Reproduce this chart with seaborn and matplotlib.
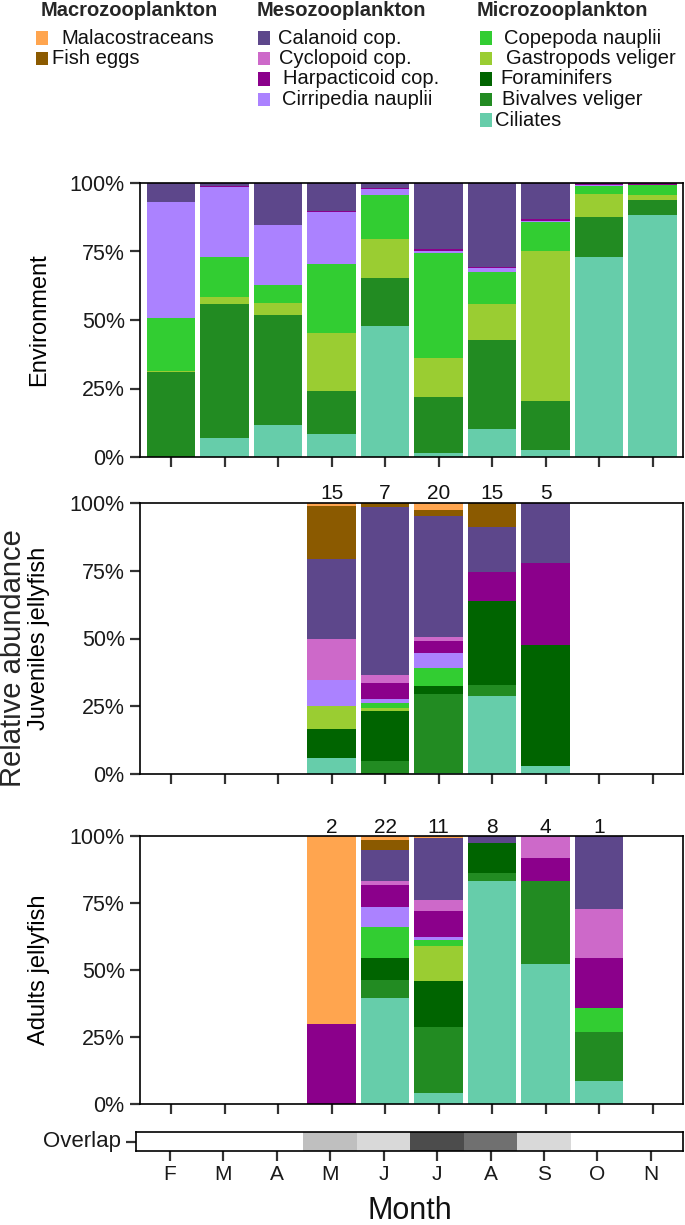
import numpy as np
import pandas as pd
import matplotlib
matplotlib.use("Agg")
import matplotlib.pyplot as plt
from matplotlib.patches import Rectangle
from matplotlib.colors import LinearSegmentedColormap
import seaborn as sns

# ---------------- data ----------------
months = ["Feb", "Mar", "Apr", "May", "Jun", "Jul", "Aug", "Sep", "Oct", "Nov"]
month_labels = ["F", "M", "A", "M", "J", "J", "A", "S", "O", "N"]

# stacking order, bottom -> top
taxa = ["Ciliates", "Bivalves veliger", "Foraminifers", "Gastropods veliger",
        "Copepoda nauplii", "Cirripedia nauplii", "Harpacticoid cop.",
        "Cyclopoid cop.", "Calanoid cop.", "Fish eggs", "Malacostraceans"]

colors = {
    "Malacostraceans": "#FFA54F", "Fish eggs": "#8B5A00",
    "Calanoid cop.": "#5D478B", "Cyclopoid cop.": "#CD69C9",
    "Harpacticoid cop.": "#8B008B", "Cirripedia nauplii": "#AB82FF",
    "Copepoda nauplii": "#32CD32", "Gastropods veliger": "#9ACD32",
    "Foraminifers": "#006400", "Bivalves veliger": "#228B22",
    "Ciliates": "#66CDAA",
}

# Environment (% per month F..N)
environment = {
    "Ciliates":           [0, 6.8, 11.7, 8.5, 47.7, 1.3, 10.2, 2.7, 73.0, 88.5],
    "Bivalves veliger":   [31.0, 49.1, 40.2, 15.5, 17.8, 20.7, 32.4, 17.9, 14.5, 5.4],
    "Foraminifers":       [0, 0, 0, 0, 0, 0, 0, 0, 0, 0],
    "Gastropods veliger": [0.3, 2.6, 4.4, 21.3, 14.0, 14.1, 13.2, 54.7, 8.5, 1.7],
    "Copepoda nauplii":   [19.5, 14.6, 6.6, 25.2, 16.1, 38.4, 11.8, 10.5, 2.8, 3.7],
    "Cirripedia nauplii": [42.1, 25.6, 21.6, 18.9, 2.1, 0.7, 1.2, 0.3, 0.3, 0],
    "Harpacticoid cop.":  [0.3, 0.3, 0.3, 0.3, 0.3, 0.6, 0.7, 0.8, 0.6, 0.7],
    "Cyclopoid cop.":     [0, 0, 0, 0, 0, 0, 0, 0, 0, 0],
    "Calanoid cop.":      [6.8, 1.0, 15.2, 10.3, 2.0, 24.2, 30.5, 13.1, 0.3, 0],
    "Fish eggs":          [0, 0, 0, 0, 0, 0, 0, 0, 0, 0],
    "Malacostraceans":    [0, 0, 0, 0, 0, 0, 0, 0, 0, 0],
}

juveniles = {
    "Ciliates":           [0, 0, 0, 5.8, 0, 0.5, 28.8, 3.1, 0, 0],
    "Bivalves veliger":   [0, 0, 0, 0, 4.9, 29.1, 4.2, 0, 0, 0],
    "Foraminifers":       [0, 0, 0, 10.9, 18.3, 2.8, 30.7, 44.5, 0, 0],
    "Gastropods veliger": [0, 0, 0, 8.3, 1.2, 0, 0, 0, 0, 0],
    "Copepoda nauplii":   [0, 0, 0, 0, 1.7, 6.7, 0, 0, 0, 0],
    "Cirripedia nauplii": [0, 0, 0, 9.6, 1.7, 5.7, 0, 0, 0, 0],
    "Harpacticoid cop.":  [0, 0, 0, 0, 5.6, 4.3, 10.9, 30.2, 0, 0],
    "Cyclopoid cop.":     [0, 0, 0, 15.2, 3.0, 1.5, 0, 0, 0, 0],
    "Calanoid cop.":      [0, 0, 0, 29.6, 62.1, 44.7, 16.4, 22.2, 0, 0],
    "Fish eggs":          [0, 0, 0, 19.6, 1.5, 2.2, 9.0, 0, 0, 0],
    "Malacostraceans":    [0, 0, 0, 1.0, 0, 2.5, 0, 0, 0, 0],
}

adults = {
    "Ciliates":           [0, 0, 0, 0, 39.7, 4.0, 83.3, 52.3, 8.4, 0],
    "Bivalves veliger":   [0, 0, 0, 0, 6.7, 24.7, 3.0, 30.9, 18.5, 0],
    "Foraminifers":       [0, 0, 0, 0, 8.0, 17.1, 11.0, 0, 0, 0],
    "Gastropods veliger": [0, 0, 0, 0, 0, 13.1, 0, 0, 0, 0],
    "Copepoda nauplii":   [0, 0, 0, 0, 11.6, 2.2, 0, 0, 9.1, 0],
    "Cirripedia nauplii": [0, 0, 0, 0, 7.6, 1.2, 0, 0, 0, 0],
    "Harpacticoid cop.":  [0, 0, 0, 29.7, 8.0, 9.6, 0, 8.7, 18.5, 0],
    "Cyclopoid cop.":     [0, 0, 0, 0, 1.6, 4.1, 0, 8.1, 18.3, 0],
    "Calanoid cop.":      [0, 0, 0, 0, 11.6, 23.1, 2.7, 0, 27.2, 0],
    "Fish eggs":          [0, 0, 0, 0, 3.7, 0, 0, 0, 0, 0],
    "Malacostraceans":    [0, 0, 0, 70.3, 1.5, 0.9, 0, 0, 0, 0],
}

juvenile_n = [None, None, None, 15, 7, 20, 15, 5, None, None]
adult_n = [None, None, None, 2, 22, 11, 8, 4, 1, None]

overlap = [0, 0, 0, 0.25, 0.15, 0.70, 0.56, 0.15, 0, 0]

legend_titles = ["Macrozooplankton", "Mesozooplankton", "Microzooplankton"]
legend_members = [
    ["Malacostraceans", "Fish eggs"],
    ["Calanoid cop.", "Cyclopoid cop.", "Harpacticoid cop.", "Cirripedia nauplii"],
    ["Copepoda nauplii", "Gastropods veliger", "Foraminifers", "Bivalves veliger", "Ciliates"],
]

# ---------------- style ----------------
sns.set_theme(style="ticks")
plt.rcParams["font.family"] = ["Liberation Sans", "DejaVu Sans"]
plt.rcParams["axes.edgecolor"] = "black"

W, H = 685, 1225
fig = plt.figure(figsize=(W / 100, H / 100), dpi=100)
TICK_FS = 15.5


def fig_axes(x0, y0, x1, y1):
    return fig.add_axes([x0 / W, 1 - y1 / H, (x1 - x0) / W, (y1 - y0) / H])


def style_frame(ax):
    ax.tick_params(axis="both", direction="out", length=7, width=1.6,
                   color="#333333", pad=4, labelcolor="#1a1a1a")
    for s in ax.spines.values():
        s.set_visible(True)
        s.set_color("black")
        s.set_linewidth(1.2)


def stacked_panel(ax, table, ylabel, counts=None):
    df = pd.DataFrame(table, index=months)[taxa]
    cum = df.cumsum(axis=1)
    for t in reversed(taxa):
        sns.barplot(x=months, y=cum[t].values, order=months, color=colors[t],
                    saturation=1, width=0.9, linewidth=0, errorbar=None, ax=ax)
    ax.set_xlim(-0.58, 9.57)
    ax.set_ylim(0, 100)
    ax.set_yticks([0, 25, 50, 75, 100])
    ax.set_yticklabels(["0%", "25%", "50%", "75%", "100%"], fontsize=TICK_FS)
    ax.set_xticks(range(len(months)))
    ax.set_xticklabels([])
    ax.set_xlabel("")
    ax.set_ylabel(ylabel, fontsize=17, color="black")
    ax.yaxis.set_label_coords(-0.166, 0.5)
    style_frame(ax)
    if counts is not None:
        for i, n in enumerate(counts):
            if n is not None:
                ax.text(i, 101.3, str(n), ha="center", va="baseline",
                        fontsize=15, color="#111111")


ax1 = fig_axes(140, 183, 683, 457)
stacked_panel(ax1, environment, "Environment")
ax2 = fig_axes(140, 503, 683, 774)
stacked_panel(ax2, juveniles, "Juveniles jellyfish", juvenile_n)
ax3 = fig_axes(140, 836, 683, 1104)
stacked_panel(ax3, adults, "Adults jellyfish", adult_n)

fig.text(13 / W, 1 - 658 / H, "Relative abundance", rotation=90, fontsize=21,
         ha="center", va="center")

# overlap strip
ax4 = fig_axes(136, 1132, 683, 1151)
ov = pd.DataFrame([overlap], columns=months, index=["Overlap"])
cmap = LinearSegmentedColormap.from_list("wb", ["#ffffff", "#000000"])
sns.heatmap(ov, ax=ax4, cmap=cmap, vmin=0, vmax=1, cbar=False, linewidths=0)
ax4.set_xlim(-0.13, 10.1)
ax4.set_xticks(np.arange(len(months)) + 0.5)
ax4.set_xticklabels(month_labels, fontsize=15, rotation=0)
ax4.set_yticks([0.5])
ax4.set_yticklabels(["Overlap"], fontsize=16, rotation=0)
style_frame(ax4)
ax4.tick_params(axis="x", pad=3)
ax4.set_xlabel("")
ax4.set_ylabel("")
fig.text(409.5 / W, 1 - 1219 / H, "Month", fontsize=22, ha="center",
         va="baseline", color="#111111")

# legend (manual, three titled groups)
title_x = [41, 257, 477]
square_x = [36, 258, 480]
text_x = [[61, 52], [278, 279, 283, 282], [504, 506, 500, 502, 495]]
row_y = [38, 58.5, 79, 99.5, 120]
SQ_W, SQ_H = 12, 13
for g, title in enumerate(legend_titles):
    fig.text(title_x[g] / W, 1 - 10 / H, title, fontsize=14.5, fontweight="bold",
             ha="left", va="center")
    for r, name in enumerate(legend_members[g]):
        yc = row_y[r]
        fig.patches.append(Rectangle((square_x[g] / W, 1 - (yc + SQ_H / 2) / H),
                                     SQ_W / W, SQ_H / H, transform=fig.transFigure,
                                     facecolor=colors[name], edgecolor="none"))
        fig.text(text_x[g][r] / W, 1 - yc / H, name, fontsize=14.5,
                 ha="left", va="center", color="#111111")

fig.savefig("out.png", dpi=100)
